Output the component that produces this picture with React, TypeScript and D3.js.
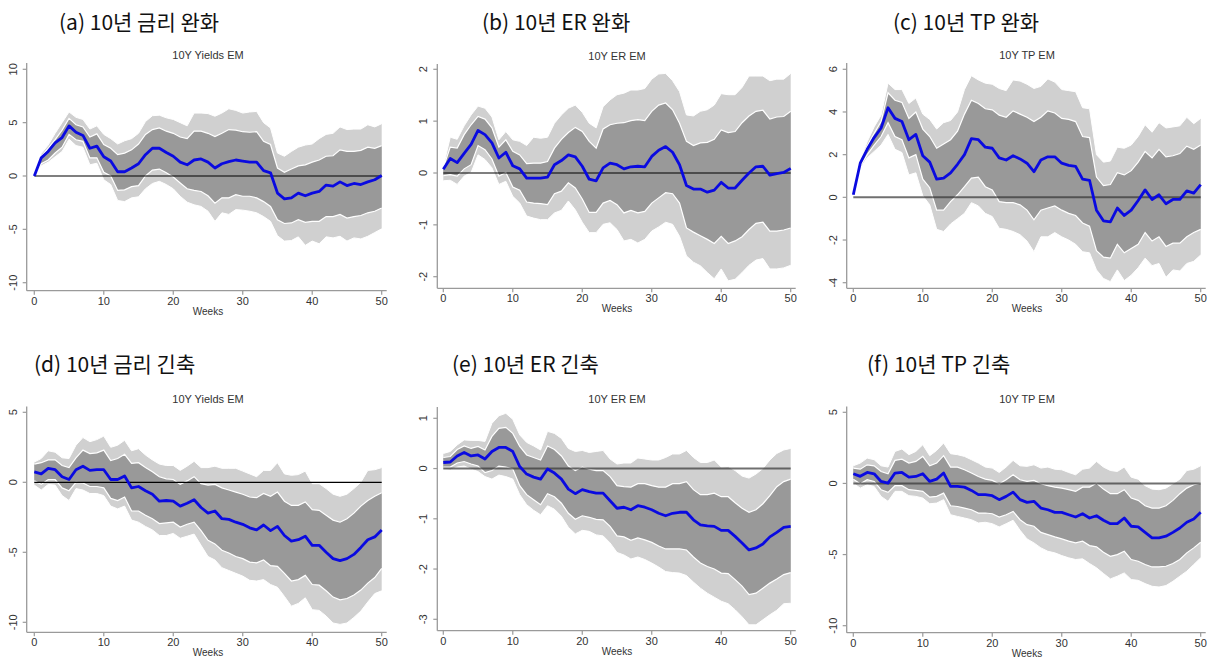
import React from "react";
import * as d3 from "d3";

const weeks = [0,1,2,3,4,5,6,7,8,9,10,11,12,13,14,15,16,17,18,19,20,21,22,23,24,25,26,27,28,29,30,31,32,33,34,35,36,37,38,39,40,41,42,43,44,45,46,47,48,49,50];
const xTicks = [0, 10, 20, 30, 40, 50];

// (a) 10Y Yields EM — easing
const aMean = [0,1.7,2.3,3.1,3.6,4.7,4.1,3.8,2.6,2.8,1.8,1.4,0.4,0.4,0.75,1.15,2.0,2.6,2.6,2.2,1.85,1.3,1.05,1.5,1.6,1.3,0.75,1.15,1.35,1.5,1.4,1.3,1.3,0.5,0.3,-1.6,-2.15,-2.05,-1.6,-1.85,-1.6,-1.45,-0.85,-0.95,-0.55,-0.9,-0.7,-0.8,-0.55,-0.35,0.05];
const aHi90 = [0,2.1,2.9,4.0,5.0,6.0,5.5,5.3,4.4,4.7,3.9,3.5,3.0,3.3,3.5,4.0,5.1,5.65,5.7,5.45,5.3,5.0,4.7,5.9,5.9,5.85,5.6,5.9,6.3,6.15,5.9,6.0,6.05,5.0,4.5,2.15,1.85,2.3,2.7,2.9,3.0,3.5,3.9,4.0,4.6,4.35,4.4,4.4,4.8,4.6,4.9];
const aHi68 = [0,1.85,2.6,3.4,4.3,5.4,4.8,4.6,3.65,3.95,2.95,2.6,2.0,2.15,2.45,3.0,3.9,4.35,4.5,4.2,4.0,3.65,3.5,4.2,4.2,4.0,3.7,4.0,4.35,4.3,4.15,4.1,4.15,3.25,2.95,0.75,0.35,0.65,0.95,1.05,1.3,1.5,1.85,1.9,2.45,2.3,2.3,2.4,2.7,2.6,2.85];
const aLo68 = [0,1.15,1.5,2.15,2.7,3.9,3.4,3.25,1.7,1.7,0.35,0,-1.35,-1.3,-1.0,-0.9,0,0.55,0.65,0.3,-0.1,-0.65,-1.2,-1.35,-1.45,-1.85,-2.55,-2.05,-2.05,-1.75,-1.9,-1.9,-2.05,-2.4,-2.85,-4.1,-4.45,-4.4,-4.1,-4.35,-4.25,-4.25,-3.8,-3.8,-3.6,-3.95,-3.8,-3.7,-3.45,-3.3,-3.0];
const aLo90 = [0,0.95,1.3,1.8,2.3,3.45,2.85,2.7,1.05,1.2,-0.35,-0.8,-2.3,-2.4,-2.05,-1.95,-1.2,-0.7,-0.5,-0.8,-1.2,-1.9,-2.45,-2.7,-2.85,-3.3,-4.25,-3.45,-3.6,-3.15,-3.2,-3.3,-3.45,-3.8,-4.25,-5.6,-6.1,-6.05,-5.7,-6.5,-6.1,-6.35,-5.7,-5.8,-5.65,-6.1,-5.8,-5.9,-5.65,-5.3,-4.95];
const aTicks = [-10, -5, 0, 5, 10];

// (b) 10Y ER EM — easing
const bMean = [0.07,0.28,0.2,0.38,0.55,0.82,0.74,0.58,0.29,0.4,0.14,0.08,-0.1,-0.1,-0.1,-0.08,0.16,0.24,0.35,0.31,0.13,-0.12,-0.15,0.1,0.19,0.16,0.08,0.12,0.13,0.12,0.32,0.44,0.51,0.4,0.16,-0.24,-0.31,-0.31,-0.37,-0.33,-0.18,-0.29,-0.29,-0.14,0,0.12,0.13,-0.04,-0.01,0.01,0.09];
const bHi90 = [0.12,0.69,0.65,0.91,1.12,1.29,1.25,1.08,0.64,0.8,0.64,0.61,0.53,0.69,0.67,0.69,0.96,1.12,1.25,1.31,1.17,0.96,0.87,1.28,1.41,1.51,1.54,1.6,1.6,1.63,1.81,1.91,1.92,1.78,1.57,1.12,1.1,1.19,1.22,1.31,1.53,1.51,1.51,1.65,1.87,1.87,1.87,1.78,1.81,1.81,1.92];
const bHi68 = [0.1,0.5,0.48,0.74,0.93,1.09,1.04,0.87,0.5,0.64,0.42,0.35,0.18,0.19,0.19,0.22,0.48,0.65,0.78,0.88,0.8,0.61,0.48,0.85,0.93,0.96,0.97,1.01,1.03,1.01,1.19,1.31,1.35,1.22,0.96,0.61,0.53,0.58,0.59,0.65,0.83,0.78,0.8,0.97,1.1,1.19,1.21,1.04,1.08,1.09,1.19];
const bLo68 = [-0.05,-0.03,-0.06,0.08,0.16,0.53,0.45,0.27,-0.06,0.01,-0.27,-0.33,-0.56,-0.58,-0.59,-0.61,-0.4,-0.35,-0.19,-0.29,-0.5,-0.76,-0.76,-0.58,-0.53,-0.61,-0.77,-0.72,-0.77,-0.74,-0.58,-0.48,-0.38,-0.4,-0.58,-1.06,-1.14,-1.21,-1.28,-1.36,-1.22,-1.36,-1.31,-1.23,-1.09,-0.97,-0.95,-1.12,-1.12,-1.1,-1.06];
const bLo90 = [-0.15,-0.14,-0.22,-0.06,0.01,0.35,0.26,0.1,-0.22,-0.16,-0.45,-0.58,-0.83,-0.87,-0.9,-0.9,-0.77,-0.72,-0.54,-0.71,-0.95,-1.15,-1.15,-0.99,-0.96,-1.09,-1.31,-1.28,-1.35,-1.28,-1.12,-1.04,-0.95,-0.99,-1.22,-1.6,-1.72,-1.79,-1.92,-2.04,-1.85,-2.08,-2.05,-1.92,-1.78,-1.68,-1.65,-1.85,-1.85,-1.83,-1.78];
const bTicks = [-2, -1, 0, 1, 2];

// (c) 10Y TP EM — easing
const cMean = [0.12,1.6,2.25,2.8,3.25,4.2,3.7,3.55,2.7,2.95,1.95,1.65,0.85,0.9,1.15,1.55,2.0,2.75,2.7,2.35,2.3,1.85,1.75,1.95,1.8,1.6,1.2,1.75,1.9,1.9,1.6,1.5,1.45,0.85,0.8,-0.6,-1.1,-1.15,-0.5,-0.85,-0.6,-0.15,0.35,-0.1,0.12,-0.3,-0.1,-0.1,0.3,0.2,0.6];
const cHi90 = [0.12,1.75,2.6,3.3,3.85,5.35,5.05,5.05,4.4,4.65,3.9,3.65,3.2,3.5,3.6,4.0,5.05,5.7,5.5,5.35,5.3,5.1,5.0,5.5,5.45,5.3,5.1,5.2,5.55,5.4,5.05,5.0,4.95,4.2,4.15,2.0,1.65,1.7,2.35,2.3,2.45,2.85,3.4,3.05,3.5,3.25,3.3,3.35,3.75,3.45,3.7];
const cHi68 = [0.12,1.73,2.4,3.0,3.55,4.9,4.55,4.45,3.7,4.0,3.2,2.85,2.3,2.5,2.7,3.1,3.9,4.55,4.4,4.15,4.1,3.85,3.75,4.05,3.9,3.75,3.55,3.75,4.05,3.95,3.7,3.65,3.55,2.85,2.8,0.95,0.55,0.6,1.15,1.05,1.25,1.65,2.15,1.85,2.25,1.9,1.95,2.05,2.4,2.25,2.45];
const cLo68 = [0.12,1.45,2.0,2.45,2.85,3.5,2.85,2.7,1.85,2.0,0.85,0.45,-0.6,-0.6,-0.2,0.12,0.5,0.9,0.95,0.5,0.35,-0.2,-0.25,-0.25,-0.35,-0.6,-1.05,-0.6,-0.5,-0.4,-0.6,-0.75,-0.85,-1.2,-1.35,-2.5,-2.8,-2.85,-2.2,-2.6,-2.4,-2.2,-1.65,-2.05,-1.85,-2.3,-2.15,-2.15,-1.85,-1.65,-1.5];
const cLo90 = [0.12,1.35,1.85,2.15,2.45,2.95,2.25,2.1,1.05,1.15,0.08,-0.35,-1.5,-1.6,-1.25,-1.0,-0.75,-0.25,-0.4,-0.75,-0.9,-1.45,-1.5,-1.6,-1.75,-2.05,-2.55,-1.85,-1.85,-1.65,-1.85,-2.0,-2.2,-2.55,-2.6,-3.4,-3.8,-3.95,-3.4,-3.9,-3.65,-3.3,-2.85,-3.2,-3.1,-3.75,-3.4,-3.45,-3.1,-3.0,-2.7];
const cTicks = [-4, -2, 0, 2, 4, 6];

// (d) 10Y Yields EM — tightening
const dMean = [0.75,0.6,1.0,0.9,0.4,0.2,0.9,1.15,0.85,0.9,0.9,0.2,0.2,0.45,-0.4,-0.3,-0.6,-0.85,-1.35,-1.3,-1.35,-1.7,-1.5,-1.25,-1.8,-2.2,-2.05,-2.6,-2.65,-2.85,-3.0,-3.25,-3.4,-3.05,-3.45,-3.15,-3.8,-4.2,-4.1,-3.85,-4.5,-4.5,-5.0,-5.45,-5.6,-5.45,-5.15,-4.65,-4.1,-3.9,-3.4];
const dHi90 = [1.45,1.7,2.25,2.15,1.75,1.7,2.65,3.2,2.9,3.05,3.3,2.5,2.65,3.0,2.25,2.4,1.95,1.6,1.3,1.2,1.2,0.85,1.15,1.5,1.05,1.05,1.15,1.0,1.0,1.0,0.8,0.6,0.4,0.85,0.85,1.4,0.6,0.5,0.55,0.8,-0.1,-0.1,-0.45,-0.85,-1.0,-0.85,-0.45,0,0.85,0.9,1.05];
const dHi68 = [1.3,1.4,1.6,1.6,1.2,1.05,1.75,2.3,2.05,2.1,2.3,1.55,1.7,2.0,1.35,1.4,1.05,0.75,0.4,0.25,0.2,-0.15,0.1,0.4,-0.1,-0.2,-0.15,-0.4,-0.55,-0.7,-0.85,-1.05,-1.1,-0.8,-1.0,-0.7,-1.35,-1.65,-1.65,-1.4,-1.95,-2.0,-2.35,-2.7,-2.85,-2.6,-2.2,-1.7,-1.3,-1.0,-0.75];
const dLo68 = [0.1,-0.15,0.2,0.2,-0.4,-0.6,0,-0.05,-0.3,-0.3,-0.4,-1.15,-1.3,-1.05,-2.05,-2.05,-2.35,-2.6,-2.95,-2.9,-2.85,-3.2,-3.0,-2.85,-3.45,-4.15,-4.4,-4.85,-5.05,-5.3,-5.45,-5.7,-5.75,-5.55,-5.95,-6.0,-6.5,-7.05,-6.95,-6.65,-7.3,-7.35,-7.75,-8.2,-8.4,-8.3,-8.05,-7.7,-7.2,-6.8,-6.15];
const dLo90 = [-0.2,-0.55,-0.15,-0.2,-0.95,-1.3,-0.45,-0.55,-0.8,-0.8,-0.95,-1.7,-1.9,-1.7,-2.7,-2.85,-3.15,-3.4,-3.8,-3.8,-3.65,-4.0,-3.85,-3.7,-4.5,-5.3,-5.55,-6.1,-6.3,-6.5,-6.7,-7.0,-7.05,-6.95,-7.3,-7.5,-8.15,-8.85,-8.65,-8.25,-9.1,-9.15,-9.55,-10.05,-10.15,-10.05,-9.65,-9.2,-8.55,-7.95,-7.75];
const dTicks = [-10, -5, 0, 5];

// (e) 10Y ER EM — tightening
const eMean = [0.12,0.13,0.25,0.32,0.25,0.27,0.19,0.34,0.42,0.42,0.34,0.04,-0.11,-0.17,-0.21,-0.01,-0.09,-0.21,-0.41,-0.5,-0.42,-0.46,-0.49,-0.49,-0.64,-0.79,-0.77,-0.82,-0.74,-0.77,-0.82,-0.89,-0.94,-0.89,-0.87,-0.87,-1.02,-1.12,-1.14,-1.15,-1.23,-1.23,-1.35,-1.48,-1.62,-1.58,-1.5,-1.36,-1.27,-1.17,-1.15];
const eHi90 = [0.3,0.34,0.47,0.57,0.56,0.56,0.54,0.9,1.05,1.1,0.98,0.67,0.52,0.45,0.37,0.74,0.7,0.6,0.4,0.34,0.36,0.32,0.34,0.36,0.19,0.09,0.11,0.11,0.21,0.19,0.17,0.17,0.22,0.29,0.29,0.36,0.22,0.12,0.12,0.17,0.03,0.04,-0.04,-0.15,-0.19,-0.11,0,0.17,0.3,0.37,0.4];
const eHi68 = [0.22,0.24,0.38,0.45,0.4,0.44,0.37,0.64,0.8,0.82,0.7,0.44,0.27,0.22,0.17,0.45,0.38,0.25,0.05,-0.04,0.03,-0.01,-0.04,-0.04,-0.16,-0.34,-0.36,-0.37,-0.3,-0.3,-0.34,-0.37,-0.37,-0.3,-0.3,-0.26,-0.42,-0.52,-0.52,-0.49,-0.56,-0.56,-0.68,-0.79,-0.87,-0.82,-0.7,-0.54,-0.36,-0.26,-0.21];
const eLo68 = [0.03,0.03,0.11,0.14,0.09,0.05,-0.08,-0.04,0.05,0.03,-0.01,-0.34,-0.52,-0.62,-0.72,-0.5,-0.56,-0.69,-0.89,-1.01,-0.94,-0.97,-1.01,-1.02,-1.15,-1.34,-1.36,-1.43,-1.38,-1.42,-1.47,-1.54,-1.6,-1.6,-1.6,-1.62,-1.76,-1.88,-1.95,-2.0,-2.08,-2.09,-2.21,-2.34,-2.51,-2.48,-2.38,-2.28,-2.2,-2.11,-2.07];
const eLo90 = [-0.01,-0.03,0.03,0.05,-0.01,-0.06,-0.16,-0.21,-0.13,-0.16,-0.21,-0.52,-0.72,-0.83,-0.92,-0.74,-0.81,-0.95,-1.17,-1.3,-1.23,-1.25,-1.32,-1.34,-1.48,-1.67,-1.72,-1.8,-1.76,-1.81,-1.88,-1.96,-2.05,-2.07,-2.08,-2.13,-2.26,-2.38,-2.48,-2.56,-2.64,-2.69,-2.81,-2.95,-3.11,-3.11,-3.01,-2.91,-2.82,-2.69,-2.68];
const eTicks = [-3, -2, -1, 0, 1];

// (f) 10Y TP EM — tightening
const fMean = [0.68,0.5,0.77,0.68,0.14,0.02,0.73,0.77,0.44,0.49,0.68,0.14,0.3,0.73,-0.21,-0.21,-0.26,-0.49,-0.79,-0.79,-0.86,-1.14,-0.91,-0.61,-1.14,-1.33,-1.26,-1.73,-1.85,-2.03,-2.03,-2.2,-2.36,-2.13,-2.43,-2.27,-2.59,-2.83,-2.83,-2.43,-3.01,-3.06,-3.44,-3.83,-3.83,-3.71,-3.44,-3.13,-2.73,-2.5,-2.03];
const fHi90 = [1.24,1.43,1.78,1.67,1.24,1.15,2.25,2.42,2.02,2.25,2.72,1.95,2.32,2.84,2.09,2.02,1.9,1.67,1.43,1.15,1.08,0.77,1.15,1.62,1.24,1.2,1.31,1.08,1.15,1.0,0.96,0.77,0.61,1.0,1.08,1.55,1.15,0.91,0.84,1.15,0.44,0.3,-0.16,-0.4,-0.44,-0.33,-0.02,0.3,0.91,1.0,1.24];
const fHi68 = [1.08,1.0,1.31,1.24,0.84,0.68,1.62,1.71,1.43,1.55,1.9,1.24,1.43,1.95,1.15,1.15,0.96,0.73,0.49,0.3,0.21,-0.02,0.26,0.61,0.26,0.14,0.21,-0.02,-0.16,-0.26,-0.33,-0.44,-0.56,-0.26,-0.26,0.02,-0.4,-0.72,-0.72,-0.44,-1.03,-1.19,-1.57,-1.73,-1.73,-1.57,-1.19,-0.72,-0.33,-0.09,0.02];
const fLo68 = [0.3,-0.02,0.26,0.14,-0.44,-0.63,-0.16,-0.16,-0.44,-0.49,-0.56,-0.96,-0.91,-0.68,-1.57,-1.62,-1.73,-1.85,-2.08,-2.08,-2.13,-2.36,-2.2,-1.97,-2.55,-2.9,-3.01,-3.44,-3.6,-3.76,-3.9,-4.06,-4.18,-4.06,-4.37,-4.46,-4.84,-5.12,-5.0,-4.77,-5.35,-5.47,-5.7,-5.87,-5.87,-5.82,-5.63,-5.35,-4.88,-4.53,-4.13];
const fLo90 = [0.02,-0.33,-0.09,-0.21,-0.91,-1.26,-0.56,-0.56,-0.86,-0.91,-1.03,-1.43,-1.38,-1.14,-2.2,-2.32,-2.43,-2.55,-2.78,-2.73,-2.83,-3.06,-2.83,-2.59,-3.29,-3.9,-4.18,-4.53,-4.77,-4.88,-5.07,-5.23,-5.35,-5.3,-5.63,-5.93,-6.33,-6.71,-6.52,-6.29,-6.76,-6.81,-7.04,-7.23,-7.28,-7.18,-6.88,-6.52,-6.17,-5.7,-5.23];
const fTicks = [-10, -5, 0, 5];

const panelLabels = ["(a) 10년 금리 완화", "(b) 10년 ER 완화", "(c) 10년 TP 완화", "(d) 10년 금리 긴축", "(e) 10년 ER 긴축", "(f) 10년 TP 긴축"];
const panelTitles = ["10Y Yields EM", "10Y ER EM", "10Y TP EM", "10Y Yields EM", "10Y ER EM", "10Y TP EM"];

// layout (pixels) — kept separate from data
const layouts = [
  { labelX: 59, labelY: 30, x0: 34.3, x1: 381.7, tickTopPx: 69.3, tickBotPx: 282.7, axisX: 26.7, axisY: 290.7, axisTop: 63, zeroStyle: "thin" },
  { labelX: 482, labelY: 30, x0: 443.3, x1: 790.7, tickTopPx: 69.3, tickBotPx: 276.7, axisX: 437.3, axisY: 288.3, axisTop: 64, zeroStyle: "thin" },
  { labelX: 893, labelY: 30, x0: 853.3, x1: 1200.7, tickTopPx: 69.3, tickBotPx: 282.7, axisX: 846.7, axisY: 288.3, axisTop: 63, zeroStyle: "thick" },
  { labelX: 34, labelY: 372, x0: 34.3, x1: 381.7, tickTopPx: 412.3, tickBotPx: 622.3, axisX: 26.7, axisY: 632.3, axisTop: 406.5, zeroStyle: "thin" },
  { labelX: 452, labelY: 372, x0: 443.3, x1: 790.7, tickTopPx: 418.3, tickBotPx: 619.3, axisX: 437.3, axisY: 630.7, axisTop: 407, zeroStyle: "thick" },
  { labelX: 867, labelY: 372, x0: 853.3, x1: 1200.7, tickTopPx: 412.3, tickBotPx: 625.7, axisX: 846.7, axisY: 632.7, axisTop: 406.5, zeroStyle: "thick" },
];

const series = [
  [aHi90, aHi68, aMean, aLo68, aLo90, aTicks],
  [bHi90, bHi68, bMean, bLo68, bLo90, bTicks],
  [cHi90, cHi68, cMean, cLo68, cLo90, cTicks],
  [dHi90, dHi68, dMean, dLo68, dLo90, dTicks],
  [eHi90, eHi68, eMean, eLo68, eLo90, eTicks],
  [fHi90, fHi68, fMean, fLo68, fLo90, fTicks],
];

const LIGHT = "#d0d0d0";
const DARK = "#999999";
const BLUE = "#0a0ae0";
const AXIS = "#9a9a9a";
const TXT = "#333333";
const FONT = "'Liberation Sans', Arial, sans-serif";
const KFONT = "'Noto Sans CJK KR', 'Noto Sans', sans-serif";

function Panel({ idx }: { idx: number }) {
  const L = layouts[idx];
  const [hi90, hi68, mean, lo68, lo90, ticks] = series[idx] as number[][];
  const tMin = d3.min(ticks) as number;
  const tMax = d3.max(ticks) as number;
  const x = d3.scaleLinear().domain([0, 50]).range([L.x0, L.x1]);
  const y = d3.scaleLinear().domain([tMin, tMax]).range([L.tickBotPx, L.tickTopPx]);

  const band = (hi: number[], lo: number[]) =>
    d3.area<number>().x((w) => x(w)).y0((w) => y(lo[w])).y1((w) => y(hi[w]))(weeks) as string;
  const line = (vals: number[]) => d3.line<number>().x((w) => x(w)).y((w) => y(vals[w]))(weeks) as string;

  const axisRight = L.x1 + 5;
  const xTitle = (L.x0 + L.x1) / 2;
  return (
    <g>
      <text x={L.labelX} y={L.labelY} fontFamily={KFONT} fontSize={21} fill="#111">{panelLabels[idx]}</text>
      <text x={xTitle} y={L.axisTop - 4} textAnchor="middle" fontFamily={FONT} fontSize={11} fill={TXT}>{panelTitles[idx]}</text>
      <path d={band(hi90, lo90)} fill={LIGHT} />
      <path d={band(hi68, lo68)} fill={DARK} />
      <path d={line(hi90)} fill="none" stroke="#fff" strokeWidth={1} />
      <path d={line(lo90)} fill="none" stroke="#fff" strokeWidth={1} />
      <path d={line(hi68)} fill="none" stroke="#fff" strokeWidth={1.2} />
      <path d={line(lo68)} fill="none" stroke="#fff" strokeWidth={1.2} />
      {L.zeroStyle === "thin" ? (
        <line x1={x(0)} x2={x(50)} y1={y(0)} y2={y(0)} stroke="#000" strokeWidth={1.2} />
      ) : (
        <line x1={x(0)} x2={x(50)} y1={y(0)} y2={y(0)} stroke="#333" strokeOpacity={0.7} strokeWidth={2} />
      )}
      <path d={line(mean)} fill="none" stroke={BLUE} strokeWidth={2.8} strokeLinejoin="round" />
      {/* axes */}
      <line x1={L.axisX} x2={L.axisX} y1={L.axisTop} y2={L.axisY} stroke={AXIS} strokeWidth={1.3} />
      <line x1={L.axisX} x2={axisRight} y1={L.axisY} y2={L.axisY} stroke={AXIS} strokeWidth={1.3} />
      {ticks.map((t) => (
        <g key={"y" + t}>
          <line x1={L.axisX - 4} x2={L.axisX} y1={y(t)} y2={y(t)} stroke={AXIS} strokeWidth={1.2} />
          <text
            transform={`translate(${L.axisX - 10},${y(t)}) rotate(-90)`}
            textAnchor="middle"
            dy="0"
            fontFamily={FONT}
            fontSize={11}
            fill={TXT}
          >
            {t}
          </text>
        </g>
      ))}
      {xTicks.map((t) => (
        <g key={"x" + t}>
          <line x1={x(t)} x2={x(t)} y1={L.axisY} y2={L.axisY + 4} stroke={AXIS} strokeWidth={1.2} />
          <text x={x(t)} y={L.axisY + 14} textAnchor="middle" fontFamily={FONT} fontSize={11} fill={TXT}>{t}</text>
        </g>
      ))}
      <text x={xTitle} y={L.axisY + 24} textAnchor="middle" fontFamily={FONT} fontSize={10} fill={TXT}>Weeks</text>
    </g>
  );
}

export default function App() {
  return (
    <svg width={1212} height={661} style={{ position: "absolute", left: 0, top: 0, background: "#fff" }}>
      <rect width={1212} height={661} fill="#fff" />
      {[0, 1, 2, 3, 4, 5].map((i) => (
        <Panel key={i} idx={i} />
      ))}
    </svg>
  );
}
